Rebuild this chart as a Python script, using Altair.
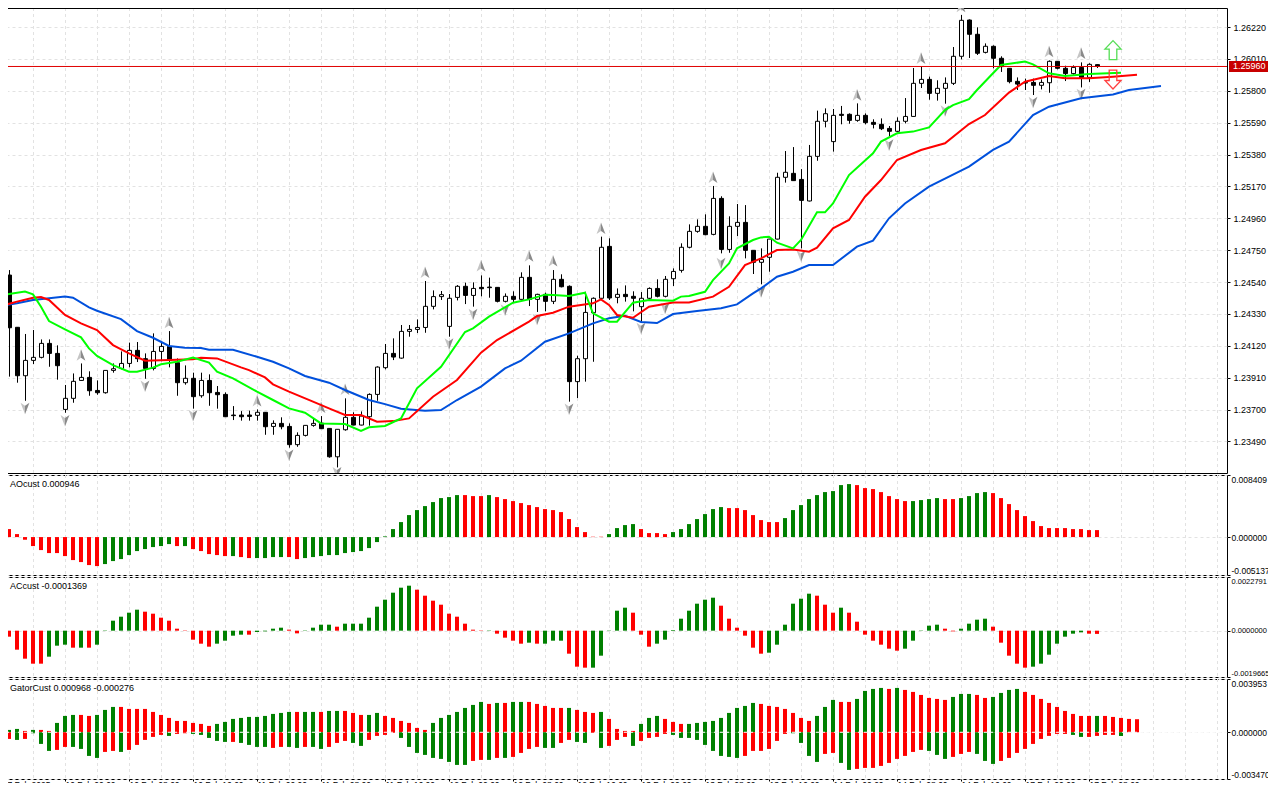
import altair as alt
import pandas as pd

FONT = "Liberation Sans"
FS = 9

# Prices are stored in points above 1.20000 (1 point = 0.00001)
highs = [4602,4619,4242,4198,4224,4162,4162,4123,3862,3938,
4004,3952,3892,3958,4004,4083,4141,4145,4070,4202,
4145,4217,4037,3991,3943,3943,3932,3855,3813,3723,
3690,3693,3701,3682,3629,3649,3609,3550,3596,3642,
3657,3576,3570,3774,3682,3688,3807,3985,4132,4169,
4257,4257,4294,4547,4485,4481,4461,4520,4536,4538,
4584,4569,4505,4465,4479,4604,4650,4463,4470,4619,
4591,4518,4055,4476,4439,4839,4828,4498,4518,4479,
4474,4505,4558,4580,4630,4795,4920,4953,4986,5173,
5105,4973,5054,5047,4749,4762,4823,5260,5403,5429,
5284,5443,5669,5684,5680,5700,5651,5717,5651,5612,
5618,5568,5625,5752,5950,5959,5893,5869,5888,6088,
6299,6270,6218,6112,6099,6027,5948,5888,5880,5880,
5875,6000,5994,5965,5967,5987,5981,5974]
body_tops = [4597,4586,4242,4024,4044,4136,4136,4070,3774,3886,
3912,3912,3826,3958,3969,4004,4090,4090,4035,4083,
4116,4116,4009,3906,3906,3892,3892,3813,3800,3664,
3664,3664,3682,3682,3609,3609,3589,3530,3596,3609,
3611,3576,3570,3649,3649,3657,3800,3980,4070,4070,
4215,4228,4241,4380,4444,4457,4433,4512,4512,4498,
4505,4507,4505,4446,4446,4571,4571,4459,4459,4558,
4558,4512,4035,4340,4433,4769,4775,4459,4459,4446,
4433,4498,4498,4558,4610,4769,4874,4907,4907,5091,
5091,4907,4933,4933,4749,4689,4823,5230,5263,5256,
5216,5368,5599,5649,5638,5645,5645,5638,5638,5592,
5579,5552,5599,5631,5849,5875,5875,5816,5849,6027,
6264,6266,6172,6093,6093,6014,5948,5862,5855,5855,
5855,5994,5994,5948,5954,5954,5974,5972]
body_bottoms = [4301,4239,3923,3923,4024,4044,4070,3989,3701,3774,
3892,3824,3811,3811,3958,3971,4004,4035,3971,3971,
4083,4024,3877,3877,3785,3791,3811,3798,3653,3660,
3653,3655,3662,3587,3589,3587,3469,3469,3530,3596,
3574,3389,3389,3567,3598,3598,3653,3800,3976,4046,
4039,4215,4228,4241,4380,4444,4248,4439,4452,4452,
4496,4503,4413,4413,4426,4426,4426,4426,4413,4413,
4509,3884,3884,4035,4338,4433,4435,4439,4444,4433,
4378,4433,4446,4446,4562,4617,4769,4874,4852,4854,
4755,4755,4907,4749,4670,4670,4703,4823,5230,5208,
5078,5074,5368,5599,5465,5638,5605,5605,5590,5579,
5550,5533,5533,5599,5631,5849,5783,5783,5816,5849,
6027,6172,6047,6053,6014,5959,5860,5844,5851,5836,
5836,5853,5948,5913,5913,5888,5888,5963]
lows = [4296,3917,3877,3758,4000,4037,3982,3897,3679,3745,
3890,3791,3798,3805,3943,3965,3978,4013,3903,3958,
4018,3978,3791,3864,3706,3778,3725,3706,3653,3631,
3627,3627,3627,3534,3534,3570,3449,3455,3523,3587,
3572,3383,3319,3561,3596,3596,3594,3758,3965,4026,
4035,4180,4204,4206,4360,4422,4180,4419,4395,4378,
4446,4437,4406,4406,4406,4426,4382,4343,4347,4395,
4505,3752,3776,3884,4015,4426,4422,4400,4411,4347,
4279,4426,4439,4439,4514,4602,4762,4865,4848,4848,
4729,4733,4843,4696,4593,4525,4608,4821,5195,5208,
4762,5071,5339,5559,5399,5579,5583,5596,5579,5552,
5541,5502,5526,5585,5629,5818,5741,5735,5715,5838,
6007,6016,6036,6046,5948,5924,5849,5805,5805,5772,
5809,5787,5941,5864,5906,5822,5858,5950]
bull_bars = [0,3,4,5,8,9,10,13,14,15,16,19,20,23,25,32,34,37,38,39,42,43,45,46,47,48,50,51,52,53,54,55,56,57,59,63,65,67,69,72,73,74,75,77,80,81,83,84,85,86,87,89,91,92,95,96,97,98,101,102,103,104,107,112,113,114,115,117,118,119,120,123,130,131,134,136]

blue_i = [0,2,4,6,8,9,11,12,15,17,19,21,23,25,26,29,32,34,36,38,41,43,46,48,50,53,55,57,60,63,65,68,71,74,76,78,80,82,84,87,90,92,94,95,97,99,101,104,107,109,111,113,116,121,124,126,129,131,135,139,141,145]
blue_p = [4382,4400,4422,4433,4444,4437,4373,4351,4296,4217,4173,4119,4108,4105,4094,4094,4048,4015,3971,3921,3877,3829,3763,3736,3705,3692,3697,3763,3851,3971,4022,4147,4202,4268,4301,4318,4277,4270,4329,4349,4367,4393,4465,4498,4575,4608,4652,4652,4773,4813,4960,5058,5168,5300,5410,5465,5640,5695,5750,5776,5805,5831]
red_i = [0,2,4,5,6,8,10,12,14,16,18,21,24,25,27,30,31,33,34,36,39,41,43,45,47,49,51,54,57,60,62,66,67,69,71,74,75,76,77,79,81,84,86,89,91,93,95,97,99,101,102,104,106,108,110,112,115,118,121,123,126,128,131,133,136,139,142]
red_p = [4382,4411,4437,4441,4422,4323,4268,4224,4125,4070,4022,4026,4031,4042,4037,3978,3960,3912,3866,3818,3752,3708,3664,3664,3620,3624,3642,3785,3895,4075,4158,4279,4316,4338,4378,4400,4426,4389,4323,4305,4378,4406,4406,4444,4509,4652,4696,4751,4755,4740,4766,4894,4949,5102,5212,5344,5410,5454,5581,5640,5788,5860,5897,5882,5882,5893,5906]
green_i = [0,1,3,4,5,6,8,10,11,12,14,16,17,19,20,22,24,26,27,29,32,34,36,38,40,43,45,46,48,50,52,55,58,59,61,64,66,68,69,71,73,74,76,77,79,81,84,85,86,88,89,91,92,94,95,96,97,99,100,102,103,104,106,109,110,112,114,116,118,119,121,122,124,125,128,129,131,133,136,140]
green_p = [4448,4461,4477,4459,4378,4283,4228,4176,4103,4053,3993,3949,3949,3976,3998,4015,4042,4009,3949,3906,3818,3763,3708,3679,3609,3605,3559,3583,3592,3642,3840,3982,4211,4235,4312,4404,4426,4457,4455,4448,4470,4334,4279,4279,4404,4422,4417,4444,4448,4476,4553,4663,4762,4817,4834,4839,4799,4762,4817,4999,4999,5058,5245,5388,5465,5520,5531,5559,5673,5706,5744,5805,5915,5970,5992,5974,5915,5897,5910,5919]

frac_up_i = [10,21,32,40,43,53,60,66,69,75,89,107,115,120,131,135]
frac_up_p = [4059,4272,3758,3715,3833,4604,4646,4711,4679,4894,5230,5772,6014,6354,6058,6047]
frac_dn_i = [3,8,18,24,36,42,56,59,63,67,71,80,83,90,95,100,111,118,129,135]
frac_dn_p = [3708,3627,3855,3660,3400,3284,4132,4327,4356,4294,3703,4235,4367,4663,4476,4711,5443,5667,5724,5777]

# AO in millionths
ao_vals = [1355,1084,406,-361,-1219,-1761,-2167,-2167,-2574,-3115,-3386,-3793,-3928,-3657,-3251,-2980,-2438,-1896,-1625,-1355,-1219,-948,-1219,-1219,-1625,-1896,-2303,-2438,-2574,-2574,-2709,-2844,-2844,-2844,-2709,-2709,-2709,-2980,-2844,-2709,-2574,-2438,-2438,-2167,-2032,-1896,-1490,-677,90,1084,2032,2980,3657,
4199,4741,5283,5418,5689,5689,5553,5553,5689,5418,5147,4876,4605,4334,4064,3793,3657,3386,2438,1355,677,45,45,406,1219,1625,1761,1084,542,542,406,677,1084,1761,2438,3115,3793,4064,3928,3928,3657,2980,2303,2032,2032,2574,3657,4334,5147,5689,6095,6231,
7043,7179,7043,6637,6502,6095,5553,5147,4876,4876,5012,5147,5283,5147,5147,5283,5553,5960,6095,5960,5283,4470,3657,2844,2167,1490,1219,1219,1219,1084,1084,948,946]
ao_cols = ("rrrrrrrrrrrrr ggggggggg r g rrrrr g rr gggg rr ggggggggggggggg "
           "ggggg rrr g rrrrrrrrrrrrrr gggg rrrr ggggggg rrrrrrr ggggggg "
           "gg rrrrrrr gggg rr gggg rrrrrrrrrrrrrr")

# AC in ten-millionths
ac_vals = [2972,-2547,-8066,-11886,-14009,-14009,-11037,-6368,-5943,-7217,-7217,-7217,-5943,142,4245,5943,7641,8915,8066,7217,5519,4245,849,142,-3821,-5519,-6792,-5519,-4245,-2123,-1698,-1698,-566,-283,849,1274,425,-1132,142,1274,2547,2547,1698,2972,2972,2972,5519,10188,13160,16131,18254,19103,17405,
14858,12735,11037,7217,5943,2972,425,142,142,-1274,-2972,-4245,-5519,-5094,-5519,-5519,-4245,-4245,-9764,-15282,-15707,-15707,-10613,-142,8490,9764,7641,-1698,-6792,-5519,-3821,283,5094,8490,11462,13160,14009,10613,5094,1274,-2123,-7217,-9764,-9339,-5943,2547,11462,13584,15707,14858,11037,7641,
9764,7641,3821,-1698,-4245,-5943,-7641,-8490,-7641,-4245,-142,2123,2547,849,-283,849,2972,4670,5094,1698,-5094,-10613,-14009,-15707,-15282,-14009,-10188,-5519,-2547,-1274,-708,-1274,-1369]
ac_cols = ("rrrrrr ggg r g r g ggggg rrrrrrrrr gggg r gggg rr gggg r ggggggggg r "
           "rrrrrrrr g rrrr g r ggg rrr ggggg rrr gggggggg rrrrrr gggggg rrr "
           "g rrrrrrr ggggg rr gggg rrrrr ggggggg rr")

# Gator in millionths
gator_up = [0,173,247,99,173,173,99,693,1212,1286,1286,1212,1286,1658,1880,1880,1732,1732,1732,1509,1286,1064,841,841,693,619,470,619,767,990,1064,1138,1138,1212,1361,1435,1509,1509,1509,1509,1509,1583,1583,1583,1435,1286,1286,1435,1212,1064,841,693,322,
173,693,1064,1286,1509,1806,2029,2251,2103,2177,2177,2251,2251,2251,2103,1954,1806,1806,1806,1658,1509,1435,1509,990,247,99,99,619,1064,1212,990,767,619,619,693,767,841,1064,1435,1806,1954,2177,2103,1954,1880,1732,1435,1064,841,1212,1880,2400,
2251,2251,2474,3068,3216,3290,3216,3290,3142,2994,2771,2548,2474,2400,2622,2845,2845,2771,2548,2622,2919,3142,3216,2994,2771,2474,2177,1880,1583,1361,1212,1212,1212,1212,1138,1064,990,968]
gator_up_cols = ("r gg r g rr ggg rr ggg rrrrrrrrrrrr gggggggggg r gg r gg rrr gg rrrrr "
                 "r ggggggg r g r gg rrrrr g rrr g rrrr ggg rrr ggggggggg rrrrrrr ggg "
                 "rr gggg r g rrrrrr ggg rr gggg rrrrrrrrr g rrrrr")
gator_dn = [643,495,569,495,74,866,1385,1311,1089,1089,1237,1757,1905,1460,1385,1460,1311,940,569,346,198,272,124,74,124,198,421,643,717,717,792,940,1089,1089,1163,1089,1089,1163,1089,1089,1237,1089,792,643,792,1014,569,272,198,49,421,1089,1534,
1682,1905,1979,2202,2425,2425,2128,2053,2053,1905,1905,1831,1534,1237,1089,1163,1163,792,569,717,792,49,1163,1014,569,346,1014,643,421,346,124,198,421,421,569,940,1385,1757,1831,1905,1757,1385,1385,1237,643,124,74,792,1757,2202,1608,1534,
2276,2796,2721,2647,2647,2499,2276,1979,1757,1460,1311,1385,1682,1979,1831,1608,1460,1608,2128,2350,2128,1905,1534,1237,866,495,272,124,124,198,346,346,272,198,198,276]
gator_dn_cols = ("rrgrgggrrggggrrgrrrrrgrrgggggrggggrrggrggrrrggrrrrggg "
                 "gggggg rr g r g rrrr gg rr gg r g rrr g rrrr ggggggggg rrrrrr gggg rr "
                 "gg rrrrrrrrr ggg rrr ggg rrrrrrrrr gg rrrr g")

price_ticks = [1.2349,1.2370,1.2391,1.2412,1.2433,1.2454,1.2475,1.2496,1.2517,1.2538,1.2559,1.2580,1.2601,1.2622]
x_labels = ["7 Feb 2025","10 Feb 00:00","10 Feb 08:00","10 Feb 16:00","11 Feb 00:00","11 Feb 08:00","11 Feb 16:00",
            "12 Feb 00:00","12 Feb 08:00","12 Feb 16:00","13 Feb 00:00","13 Feb 08:00","13 Feb 16:00",
            "14 Feb 00:00","14 Feb 08:00","14 Feb 16:00","17 Feb 00:00","17 Feb 08:00"]
last_price = 1.2596
signal_i = [139]
signal_up = [1.26068]
signal_dn = [1.25874]

GREEN, RED = "#008000", "#ff0000"
GRID = "#e2e2e2"
UP_PATH_L = "M0,-1 L-0.75,0.95 L0,0.45 Z"
UP_PATH_R = "M0,-1 L0.75,0.95 L0,0.45 Z"
DN_PATH_L = "M0,1 L-0.75,-0.95 L0,-0.45 Z"
DN_PATH_R = "M0,1 L0.75,-0.95 L0,-0.45 Z"
BIG_UP = "M0,-1 L0.85,-0.1 L0.4,-0.1 L0.4,1 L-0.4,1 L-0.4,-0.1 L-0.85,-0.1 Z"
BIG_DN = "M0,1 L0.85,0.1 L0.4,0.1 L0.4,-1 L-0.4,-1 L-0.4,0.1 L-0.85,0.1 Z"

xs = alt.Scale(domain=[0.75, 153.25], nice=False, zero=False, padding=0)
W = 1220


def px(v):
    return [1.2 + p / 1e5 for p in v]


def cols(s):
    return list(s.replace(" ", ""))


grid_df = pd.DataFrame({"i": list(range(4, 156, 4))})


def y_axis(values, expr=None, font_size=FS, pad=3):
    kw = dict(values=values, orient="right", domain=False, tickColor="black", tickSize=3,
              labelColor="black", labelFont=FONT, labelFontSize=font_size, labelPadding=pad, grid=True,
              gridColor=GRID, gridDash=[3, 3], gridWidth=1, labelOverlap=False, labelBound=False)
    if expr:
        kw.update(labelExpr=expr, labelFlush=True)
    else:
        kw.update(format=".5f", labelFlush=False)
    return alt.Axis(**kw)


def left_edge(height):
    return alt.Chart(pd.DataFrame({"e": ["left"]})).mark_rule(color="black", strokeWidth=1).encode(
        x=alt.value(0.5), y=alt.value(0), y2=alt.value(height))


class Panel:
    """Scales and axes shared by all the layers of one panel."""

    def __init__(self, ys, yax, xax=None):
        self.ys, self.yax, self.xax = ys, yax, xax

    def X(self):
        return alt.X("i:Q", scale=xs, axis=self.xax, title=None)

    def Y(self, f="v:Q"):
        return alt.Y(f, scale=self.ys, axis=self.yax, title=None)

    def axis_layer(self, values):
        return alt.Chart(pd.DataFrame({"v": values})).mark_rule(opacity=0).encode(y=self.Y())

    def grid(self):
        return alt.Chart(grid_df).mark_rule(color=GRID, strokeWidth=1, strokeDash=[3, 3], xOffset=0.5).encode(x=self.X())

    def hist(self, vals, colors):
        df = pd.DataFrame({"i": range(len(vals)), "v": vals, "z": [0.0] * len(vals), "c": cols(colors)})
        return alt.Chart(df).mark_bar(size=4, clip=True).encode(
            x=self.X(), y=self.Y(), y2="z:Q",
            color=alt.Color("c:N", scale=alt.Scale(domain=["g", "r"], range=[GREEN, RED]), legend=None))


# ------------------------------------------------------------------ main panel
n = len(highs)
bull = [i in bull_bars for i in range(n)]
cdf = pd.DataFrame({"i": range(n), "h": px(highs), "l": px(lows), "t": px(body_tops), "b": px(body_bottoms),
                    "kind": ["up" if u else "dn" for u in bull]})
ys_main = alt.Scale(domain=[1.232822, 1.263452], nice=False, zero=False)
M = Panel(ys_main, y_axis(price_ticks))

wicks = alt.Chart(cdf).mark_rule(color="black", strokeWidth=1, xOffset=0.5, clip=True).encode(
    x=M.X(), y=M.Y("l:Q"), y2="h:Q")
bodies = alt.Chart(cdf).mark_bar(size=4, stroke="black", strokeWidth=1, xOffset=0.5, clip=True).encode(
    x=M.X(), y=M.Y("t:Q"), y2="b:Q",
    fill=alt.Fill("kind:N", scale=alt.Scale(domain=["up", "dn"], range=["white", "black"]), legend=None))


def line_layer(i, p, color):
    return alt.Chart(pd.DataFrame({"i": i, "v": px(p)})).mark_line(color=color, strokeWidth=2, clip=True).encode(
        x=M.X(), y=M.Y())


def frac_layer(i, p, path, color):
    return alt.Chart(pd.DataFrame({"i": i, "v": px(p)})).mark_point(
        shape=path, size=140, filled=True, fill=color, opacity=1, clip=True).encode(x=M.X(), y=M.Y())


def sig_layer(v, path, color):
    return alt.Chart(pd.DataFrame({"i": signal_i, "v": v})).mark_point(
        shape=path, size=361, filled=False, stroke=color, strokeWidth=1.3, opacity=1, clip=True).encode(x=M.X(), y=M.Y())


last_df = pd.DataFrame({"v": [last_price], "hi": [last_price + 0.00036], "lo": [last_price - 0.00036],
                        "t": [f"{last_price:.5f}"]})
price_line = alt.Chart(last_df).mark_rule(color="#e00000", strokeWidth=1, clip=True).encode(y=M.Y())
price_box = alt.Chart(last_df).mark_rect(color="#c80000").encode(
    x=alt.value(W + 2), x2=alt.value(W + 41), y=M.Y("hi:Q"), y2="lo:Q")
price_txt = alt.Chart(last_df).mark_text(color="white", font=FONT, fontSize=FS, align="left", baseline="middle").encode(
    x=alt.value(W + 6), y=M.Y(), text="t:N")
top_edge = alt.Chart(pd.DataFrame({"e": ["top"]})).mark_rule(color="black", strokeWidth=1).encode(
    y=alt.value(0.5), x=alt.value(0), x2=alt.value(W))

main = alt.layer(
    M.axis_layer(price_ticks),
    M.grid(),
    left_edge(465), top_edge,
    wicks, bodies,
    frac_layer(frac_up_i, frac_up_p, UP_PATH_L, "#c4c4c4"),
    frac_layer(frac_up_i, frac_up_p, UP_PATH_R, "#8a8a8a"),
    frac_layer(frac_dn_i, frac_dn_p, DN_PATH_L, "#c4c4c4"),
    frac_layer(frac_dn_i, frac_dn_p, DN_PATH_R, "#8a8a8a"),
    line_layer(blue_i, blue_p, "#0050dc"),
    line_layer(red_i, red_p, "#ff0000"),
    line_layer(green_i, green_p, "#00ff00"),
    price_line,
    sig_layer(signal_up, BIG_UP, "#55dd55"),
    sig_layer(signal_dn, BIG_DN, "#ff4040"),
    price_box, price_txt,
).properties(width=W, height=465)


# ------------------------------------------------------------------ sub panels
def title_layer(text):
    return alt.Chart(pd.DataFrame({"t": [text]})).mark_text(
        font=FONT, fontSize=FS, color="black", align="left", baseline="middle").encode(
        x=alt.value(3), y=alt.value(9), text="t:N")


def labels_expr(top, zero, bottom):
    return f"datum.value>0?'{top}':datum.value<0?'{bottom}':'{zero}'"


ao_vals_t = [-0.005137, 0, 0.008409]
ac_vals_t = [-0.0019665, 0, 0.0022791]
ga_vals_t = [-0.003470, 0, 0.003953]
A = Panel(alt.Scale(domain=[ao_vals_t[0], ao_vals_t[2]], nice=False, zero=False),
          y_axis(ao_vals_t, labels_expr("0.008409", "0.000000", "-0.005137"), 8.5, 1))
C = Panel(alt.Scale(domain=[ac_vals_t[0], ac_vals_t[2]], nice=False, zero=False),
          y_axis(ac_vals_t, labels_expr("0.0022791", "0.0000000", "-0.0019665"), 7.5, 1))

ao_panel = alt.layer(
    A.axis_layer(ao_vals_t), A.grid(), left_edge(100),
    A.hist([v / 1e6 for v in ao_vals], ao_cols),
    title_layer("AOcust 0.000946"),
).properties(width=W, height=100)

ac_panel = alt.layer(
    C.axis_layer(ac_vals_t), C.grid(), left_edge(100),
    C.hist([v / 1e7 for v in ac_vals], ac_cols),
    title_layer("ACcust -0.0001369"),
).properties(width=W, height=100)

x_vals = [0.75] + [8 * k for k in range(1, len(x_labels))]
x_expr = "[" + ",".join(f"'{t}'" for t in x_labels) + "][round(datum.value/8)]"
x_axis = alt.Axis(values=x_vals, labelExpr=x_expr, grid=False, domain=False, tickColor="black",
                  tickSize=2, labelColor="black", labelFont=FONT, labelFontSize=8.5, labelAlign="left",
                  labelPadding=-1, labelOverlap=False, labelBound=False, labelFlush=False, orient="bottom")
G = Panel(alt.Scale(domain=[ga_vals_t[0], ga_vals_t[2]], nice=False, zero=False),
          y_axis(ga_vals_t, labels_expr("0.003953", "0.000000", "-0.003470"), 8.5, 1), x_axis)

ga_panel = alt.layer(
    G.axis_layer(ga_vals_t), G.grid(), left_edge(100),
    G.hist([v / 1e6 for v in gator_up], gator_up_cols),
    G.hist([-v / 1e6 for v in gator_dn], gator_dn_cols),
    alt.Chart(pd.DataFrame({"v": [0.0]})).mark_rule(color="white", strokeWidth=1, strokeDash=[3, 3], clip=True).encode(y=G.Y()),
    title_layer("GatorCust 0.000968 -0.000276"),
).properties(width=W, height=100)

chart = alt.vconcat(main, ao_panel, ac_panel, ga_panel, spacing=2, bounds="flush").properties(
    background="white",
    padding={"left": -2, "top": -1, "right": -2, "bottom": -6},
).configure_view(stroke="black", strokeWidth=1)

chart.save("out.html", embed_options={"renderer": "svg", "actions": False})
